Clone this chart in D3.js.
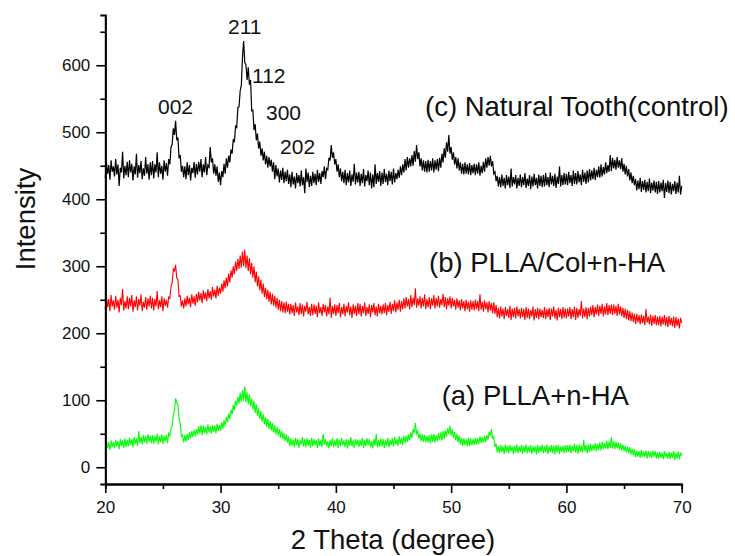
<!DOCTYPE html>
<html>
<head>
<meta charset="utf-8">
<script src="https://cdn.jsdelivr.net/npm/d3@7"></script>
<style>
  body { margin: 0; background: #fff; }
  svg { display: block; font-family: "Liberation Sans", Arial, sans-serif; }
</style>
</head>
<body>
<svg id="plot" width="735" height="556"></svg>
<script>
// 2-theta sampling of the scans (degrees)
const thetaStart = 20
const thetaStep = 0.1

// (c) Natural Tooth (control), 20.0 .. 70.0 deg, one row = 2 deg
const toothCounts = [
  432, 455, 438, 451, 429, 458, 441, 449, 434, 460, 437, 452, 420, 447, 440, 471, 431, 450, 436, 456,
  433, 458, 440, 453, 428, 449, 437, 468, 432, 451, 439, 457, 430, 446, 435, 463, 438, 452, 429, 455,
  436, 457, 431, 452, 440, 470, 433, 455, 438, 450, 429, 458, 441, 454, 435, 460, 452, 478, 482, 506,
  496, 517, 488, 492, 461, 466, 441, 450, 433, 449, 430, 455, 436, 451, 428, 447, 439, 456, 432, 453,
  437, 456, 441, 460, 433, 452, 440, 463, 436, 451, 448, 478, 455, 461, 438, 452, 435, 449, 426, 440,
  421, 442, 433, 453, 438, 461, 447, 465, 455, 474, 468, 490, 485, 509, 507, 537, 538, 562, 570, 612,
  636, 604, 601, 578, 597, 571, 578, 532, 533, 503, 512, 488, 498, 476, 486, 465, 476, 458, 471, 452,
  465, 447, 463, 449, 459, 441, 455, 430, 451, 434, 446, 425, 443, 429, 447, 424, 441, 427, 444, 423,
  437, 418, 441, 422, 434, 416, 439, 424, 436, 419, 443, 421, 433, 409, 446, 426, 440, 418, 435, 420,
  441, 424, 438, 421, 444, 426, 439, 423, 442, 433, 449, 430, 446, 444, 462, 458, 481, 462, 470, 452,
  460, 441, 452, 433, 446, 427, 441, 424, 444, 421, 439, 425, 443, 420, 437, 426, 453, 422, 440, 425,
  441, 420, 438, 424, 445, 419, 436, 427, 443, 421, 440, 416, 437, 418, 452, 423, 439, 426, 442, 420,
  440, 423, 445, 426, 438, 421, 443, 427, 441, 422, 446, 425, 439, 430, 444, 432, 449, 436, 452, 440,
  460, 443, 463, 447, 461, 449, 466, 450, 472, 456, 481, 460, 470, 449, 461, 443, 458, 441, 457, 440,
  459, 441, 457, 443, 461, 440, 458, 444, 460, 442, 462, 447, 468, 455, 476, 462, 485, 471, 496, 468,
  478, 459, 470, 452, 463, 446, 461, 443, 455, 438, 453, 437, 455, 438, 452, 437, 454, 436, 451, 439,
  453, 436, 452, 438, 455, 435, 450, 439, 456, 441, 461, 447, 463, 450, 465, 449, 457, 438, 441, 427,
  435, 419, 433, 418, 437, 420, 432, 416, 436, 421, 434, 417, 446, 419, 433, 422, 436, 416, 432, 420,
  437, 418, 433, 421, 439, 417, 431, 420, 436, 415, 434, 419, 438, 421, 432, 416, 437, 420, 435, 418,
  436, 419, 439, 421, 433, 418, 440, 422, 435, 420, 438, 417, 434, 423, 449, 419, 436, 421, 439, 422,
  438, 421, 441, 424, 436, 420, 443, 423, 439, 422, 442, 425, 437, 421, 444, 426, 440, 423, 443, 425,
  445, 428, 443, 430, 447, 429, 444, 433, 449, 432, 452, 434, 448, 437, 455, 439, 451, 441, 466, 442,
  462, 446, 459, 444, 463, 447, 458, 445, 461, 441, 453, 437, 450, 434, 445, 428, 440, 424, 435, 421,
  430, 413, 428, 415, 432, 411, 427, 414, 429, 410, 426, 412, 431, 409, 425, 413, 428, 410, 426, 408,
  427, 410, 425, 412, 429, 402, 424, 411, 428, 409, 426, 407, 423, 412, 427, 408, 425, 410, 435, 407,
  420
]

// (b) PLLA/Col+n-HA
const pllaColCounts = [
  236, 254, 239, 251, 233, 257, 240, 249, 235, 256, 238, 250, 231, 253, 242, 266, 234, 248, 237, 255,
  236, 253, 240, 257, 232, 249, 239, 255, 234, 251, 241, 258, 233, 247, 238, 254, 235, 252, 240, 256,
  237, 253, 234, 251, 240, 263, 236, 249, 239, 255, 233, 252, 241, 250, 238, 254, 252, 270, 275, 296,
  293, 302, 282, 280, 255, 256, 240, 249, 237, 252, 240, 256, 243, 253, 239, 258, 244, 255, 241, 259,
  246, 262, 249, 260, 245, 264, 251, 261, 248, 266, 252, 263, 250, 269, 255, 265, 252, 271, 256, 268,
  259, 274, 262, 279, 267, 283, 270, 289, 276, 294, 283, 300, 288, 307, 293, 311, 296, 316, 298, 322,
  300, 325, 297, 316, 293, 312, 288, 305, 283, 300, 276, 292, 270, 285, 264, 280, 259, 274, 254, 268,
  251, 265, 247, 262, 243, 259, 241, 256, 238, 253, 235, 250, 233, 248, 231, 246, 230, 247, 232, 244,
  228, 244, 230, 242, 226, 246, 231, 240, 227, 245, 229, 243, 225, 241, 232, 247, 228, 239, 226, 244,
  227, 243, 229, 241, 224, 246, 230, 239, 226, 244, 231, 242, 225, 240, 228, 253, 223, 241, 229, 243,
  226, 242, 230, 245, 224, 239, 228, 244, 225, 241, 231, 246, 227, 240, 223, 243, 229, 241, 226, 245,
  228, 244, 225, 241, 230, 246, 226, 239, 229, 243, 224, 242, 231, 245, 227, 240, 225, 244, 230, 241,
  228, 243, 230, 245, 227, 242, 232, 247, 229, 244, 233, 249, 231, 246, 235, 250, 232, 248, 236, 252,
  237, 254, 240, 251, 236, 257, 239, 253, 242, 267, 238, 252, 241, 255, 237, 253, 240, 258, 236, 251,
  239, 254, 236, 252, 241, 257, 237, 253, 240, 256, 238, 251, 242, 259, 239, 254, 236, 252, 241, 255,
  237, 253, 240, 250, 235, 252, 238, 249, 234, 251, 237, 248, 233, 250, 236, 247, 232, 249, 235, 248,
  234, 250, 236, 248, 233, 258, 235, 247, 232, 249, 236, 246, 231, 248, 234, 245, 230, 246, 229, 242,
  224, 238, 222, 240, 225, 237, 221, 239, 226, 236, 223, 241, 220, 237, 224, 238, 222, 240, 225, 236,
  222, 238, 224, 236, 220, 239, 223, 237, 221, 235, 225, 240, 219, 236, 223, 238, 221, 237, 224, 235,
  223, 239, 221, 236, 224, 238, 220, 237, 225, 240, 222, 235, 219, 238, 224, 236, 221, 239, 223, 237,
  222, 237, 225, 239, 221, 236, 224, 240, 220, 238, 223, 236, 226, 248, 222, 237, 224, 239, 221, 238,
  225, 240, 227, 242, 224, 239, 228, 243, 226, 241, 229, 244, 225, 240, 228, 245, 227, 242, 229, 243,
  227, 243, 229, 241, 226, 244, 228, 240, 225, 238, 223, 237, 221, 235, 219, 233, 218, 231, 217, 229,
  214, 229, 216, 227, 213, 228, 215, 226, 212, 236, 216, 225, 213, 228, 211, 226, 214, 227, 212, 225,
  212, 226, 210, 225, 213, 227, 211, 224, 209, 226, 212, 223, 210, 225, 208, 224, 211, 222, 207, 223,
  215
]

// (a) PLLA+n-HA
const pllaCounts = [
  27, 39, 29, 38, 26, 40, 30, 37, 28, 41, 31, 39, 27, 42, 32, 40, 29, 43, 30, 41,
  31, 44, 33, 42, 30, 45, 35, 43, 32, 54, 36, 45, 34, 48, 37, 46, 35, 49, 38, 47,
  36, 48, 35, 47, 38, 50, 34, 46, 37, 49, 35, 47, 39, 48, 36, 51, 47, 58, 61, 79,
  84, 103, 96, 94, 73, 65, 46, 48, 37, 48, 38, 50, 41, 52, 43, 54, 45, 56, 46, 57,
  49, 61, 50, 63, 48, 62, 51, 60, 49, 64, 52, 61, 50, 63, 53, 62, 51, 65, 54, 63,
  54, 67, 58, 70, 62, 75, 67, 80, 72, 86, 79, 93, 85, 99, 92, 105, 95, 111, 98, 115,
  99, 121, 97, 112, 94, 109, 91, 103, 86, 99, 81, 94, 77, 88, 72, 84, 68, 79, 64, 75,
  60, 72, 57, 69, 55, 66, 52, 63, 49, 60, 47, 57, 44, 54, 42, 51, 39, 49, 37, 46,
  31, 43, 32, 41, 30, 44, 33, 42, 29, 40, 34, 45, 31, 42, 30, 43, 32, 41, 29, 44,
  31, 42, 33, 40, 29, 43, 32, 41, 30, 50, 34, 42, 31, 39, 28, 41, 32, 43, 30, 40,
  32, 43, 29, 41, 31, 44, 33, 40, 30, 42, 28, 41, 32, 45, 31, 40, 29, 42, 33, 41,
  30, 41, 32, 44, 29, 40, 31, 43, 33, 42, 30, 39, 28, 42, 32, 50, 30, 41, 31, 43,
  31, 42, 29, 40, 32, 44, 30, 41, 33, 43, 31, 45, 34, 42, 32, 46, 35, 44, 33, 47,
  36, 47, 38, 49, 40, 52, 44, 57, 51, 66, 50, 54, 43, 50, 39, 49, 38, 48, 37, 47,
  37, 48, 36, 49, 38, 50, 37, 48, 39, 51, 41, 52, 40, 54, 42, 55, 46, 58, 49, 62,
  47, 57, 44, 53, 40, 50, 37, 47, 34, 44, 32, 43, 33, 42, 31, 44, 32, 43, 33, 42,
  33, 44, 34, 43, 35, 46, 36, 45, 37, 47, 38, 48, 41, 53, 47, 57, 43, 45, 30, 35,
  22, 32, 21, 33, 23, 31, 20, 34, 22, 32, 21, 33, 24, 31, 20, 32, 22, 34, 21, 31,
  23, 33, 20, 32, 22, 34, 21, 31, 23, 33, 20, 32, 22, 31, 19, 33, 21, 32, 23, 34,
  21, 32, 22, 34, 20, 31, 23, 33, 21, 32, 19, 33, 22, 34, 20, 31, 23, 32, 21, 33,
  22, 33, 23, 34, 21, 32, 24, 35, 22, 33, 20, 34, 23, 32, 22, 41, 24, 33, 21, 34,
  23, 35, 24, 34, 25, 36, 24, 35, 26, 37, 25, 38, 27, 36, 28, 39, 27, 38, 29, 45,
  28, 39, 27, 38, 29, 37, 26, 36, 25, 34, 24, 32, 22, 31, 21, 30, 19, 28, 18, 27,
  15, 25, 16, 24, 14, 26, 15, 23, 16, 25, 13, 24, 15, 23, 14, 25, 16, 24, 13, 22,
  13, 23, 14, 22, 12, 24, 15, 21, 13, 23, 12, 22, 14, 24, 11, 21, 13, 23, 12, 22,
  17
]

const seriesNames = ["(c) Natural Tooth(control)", "(b) PLLA/Col+n-HA", "(a) PLLA+n-HA"]
const seriesColors = ["#000000", "#ff0000", "#00ff00"]

// peak labels: [text, 2theta, intensity]
const peakLabels = [
  ["211", 30.64, 647],
  ["112", 32.73, 574],
  ["300", 33.94, 518],
  ["202", 35.16, 468],
  ["002", 24.57, 527]
]
// series label anchors: [2theta, intensity]
const seriesLabelPos = [[47.73, 524], [48.08, 291], [49.18, 93]]

const xTicks = [20, 30, 40, 50, 60, 70]
const xMinor = [25, 35, 45, 55, 65]
const yTicks = [0, 100, 200, 300, 400, 500, 600]
const yMinor = [50, 150, 250, 350, 450, 550, 650]

const svg = d3.select("#plot")
const font = "\"Liberation Sans\", Arial, sans-serif"

const x = d3.scaleLinear().domain([20, 70]).range([105.3, 681.7])
const y = d3.scaleLinear().domain([-25, 675]).range([484, 15])

const series = [toothCounts, pllaColCounts, pllaCounts]

const line = d3.line()
    .x((d, i) => x(thetaStart + i * thetaStep))
    .y(d => y(d))

series.forEach((s, k) => {
  svg.append("path")
      .datum(s)
      .attr("fill", "none")
      .attr("stroke", seriesColors[k])
      .attr("stroke-width", k === 0 ? 1.2 : 1.1)
      .attr("d", line)
})

// axes
const styleAxis = g => {
  g.select(".domain").attr("stroke", "#000").attr("stroke-width", 1.8)
  g.selectAll(".tick line").attr("stroke", "#000").attr("stroke-width", 1.6)
  g.selectAll(".tick text").attr("font-size", 17).attr("font-family", font).attr("fill", "#111")
}

svg.append("g")
    .attr("transform", "translate(0,484)")
    .call(d3.axisBottom(x).tickValues(xMinor).tickSize(5).tickFormat(""))
    .call(styleAxis)
svg.append("g")
    .attr("transform", "translate(0,484)")
    .call(d3.axisBottom(x).tickValues(xTicks).tickSize(9).tickPadding(8).tickSizeOuter(0))
    .call(styleAxis)

svg.append("g")
    .attr("transform", "translate(105.3,0)")
    .call(d3.axisLeft(y).tickValues(yMinor).tickSize(5).tickFormat(""))
    .call(styleAxis)
svg.append("g")
    .attr("transform", "translate(105.3,0)")
    .call(d3.axisLeft(y).tickValues(yTicks).tickSize(9).tickPadding(6).tickSizeOuter(0))
    .call(styleAxis)

// axis titles
svg.append("text")
    .attr("transform", "translate(35,219) rotate(-90)")
    .attr("text-anchor", "middle")
    .attr("font-size", 27.5)
    .attr("fill", "#111")
    .text("Intensity")

svg.append("text")
    .attr("x", 393).attr("y", 549)
    .attr("text-anchor", "middle")
    .attr("font-size", 27.5)
    .attr("fill", "#111")
    .text("2 Theta (degree)")

// series labels
seriesLabelPos.forEach((p, k) => {
  svg.append("text")
      .attr("x", x(p[0])).attr("y", y(p[1]))
      .attr("font-size", 27.5)
      .attr("fill", "#111")
      .text(seriesNames[k])
})

// peak labels
svg.selectAll(".peak")
  .data(peakLabels)
  .join("text")
    .attr("class", "peak")
    .attr("x", d => x(d[1]))
    .attr("y", d => y(d[2]))
    .attr("font-size", 21)
    .attr("fill", "#111")
    .text(d => d[0])
</script>
</body>
</html>
